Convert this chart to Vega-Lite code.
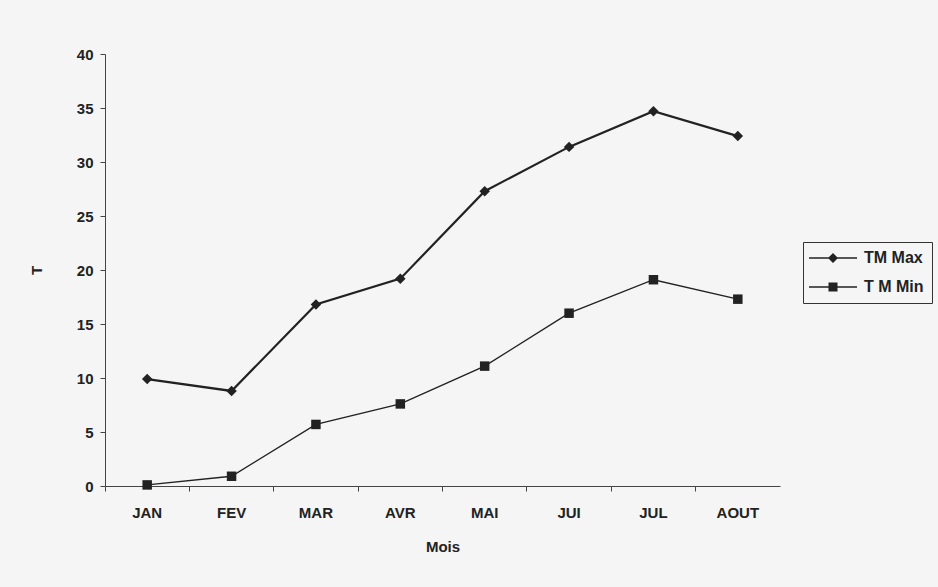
{
  "$schema": "https://vega.github.io/schema/vega-lite/v6.json",
  "width": 675,
  "height": 432,
  "autosize": {"type": "none"},
  "padding": {"left": 105, "top": 54, "right": 158, "bottom": 101},
  "background": "#f4f5f4",
  "config": {
    "view": {"stroke": null},
    "font": "Liberation Sans",
    "axis": {
      "domainColor": "#444",
      "tickColor": "#444",
      "labelColor": "#222",
      "titleColor": "#222",
      "labelFontWeight": "bold",
      "titleFontWeight": "bold",
      "labelFont": "Liberation Sans",
      "titleFont": "Liberation Sans",
      "grid": false
    }
  },
  "data": {
    "values": [
      {"mois": "JAN", "serie": "TM Max", "t": 9.9},
      {"mois": "FEV", "serie": "TM Max", "t": 8.8},
      {"mois": "MAR", "serie": "TM Max", "t": 16.8},
      {"mois": "AVR", "serie": "TM Max", "t": 19.2},
      {"mois": "MAI", "serie": "TM Max", "t": 27.3},
      {"mois": "JUI", "serie": "TM Max", "t": 31.4},
      {"mois": "JUL", "serie": "TM Max", "t": 34.7},
      {"mois": "AOUT", "serie": "TM Max", "t": 32.4},
      {"mois": "JAN", "serie": "T M Min", "t": 0.1},
      {"mois": "FEV", "serie": "T M Min", "t": 0.9},
      {"mois": "MAR", "serie": "T M Min", "t": 5.7},
      {"mois": "AVR", "serie": "T M Min", "t": 7.6},
      {"mois": "MAI", "serie": "T M Min", "t": 11.1},
      {"mois": "JUI", "serie": "T M Min", "t": 16.0},
      {"mois": "JUL", "serie": "T M Min", "t": 19.1},
      {"mois": "AOUT", "serie": "T M Min", "t": 17.3}
    ]
  },
  "encoding": {
    "x": {
      "field": "mois",
      "type": "nominal",
      "sort": ["JAN", "FEV", "MAR", "AVR", "MAI", "JUI", "JUL", "AOUT"],
      "scale": {"type": "band", "paddingInner": 0, "paddingOuter": 0},
      "axis": {
        "title": "Mois",
        "labelAngle": 0,
        "labelFontSize": 15,
        "titleFontSize": 15,
        "bandPosition": 0,
        "tickSize": 5,
        "labelPadding": 14,
        "titlePadding": 19
      }
    },
    "y": {
      "field": "t",
      "type": "quantitative",
      "scale": {"domain": [0, 40], "nice": false},
      "axis": {
        "title": "T",
        "values": [0, 5, 10, 15, 20, 25, 30, 35, 40],
        "labelFontSize": 15,
        "titleFontSize": 15,
        "tickSize": 5,
        "labelPadding": 7,
        "titlePadding": 32
      }
    }
  },
  "layer": [
    {
      "transform": [{"filter": "datum.serie === 'TM Max'"}],
      "mark": {"type": "line", "color": "#222", "strokeWidth": 2.2},
      "encoding": {}
    },
    {
      "transform": [{"filter": "datum.serie === 'T M Min'"}],
      "mark": {"type": "line", "color": "#222", "strokeWidth": 1.4},
      "encoding": {}
    },
    {
      "transform": [{"filter": "datum.serie === 'TM Max'"}],
      "mark": {"type": "point", "shape": "diamond", "filled": true, "color": "#222", "size": 110, "opacity": 1},
      "encoding": {}
    },
    {
      "transform": [{"filter": "datum.serie === 'T M Min'"}],
      "mark": {"type": "point", "shape": "square", "filled": true, "color": "#222", "size": 90, "opacity": 1},
      "encoding": {}
    },
    {
      "mark": {"type": "point", "filled": true, "color": "#222", "size": 100, "opacity": 0},
      "encoding": {
        "shape": {
          "field": "serie",
          "type": "nominal",
          "scale": {
            "domain": ["TM Max", "T M Min"],
            "range": [
              "M-4.8,-0.16L4.8,-0.16L4.8,0.16L-4.8,0.16ZM0,-1L1,0L0,1L-1,0Z",
              "M-4.8,-0.14L4.8,-0.14L4.8,0.14L-4.8,0.14ZM-0.9,-0.9L0.9,-0.9L0.9,0.9L-0.9,0.9Z"
            ]
          },
          "legend": {
            "title": null,
            "orient": "none",
            "legendX": 698,
            "legendY": 188,
            "strokeColor": "#333",
            "padding": 8,
            "fillColor": "#f4f5f4",
            "symbolSize": 100,
            "symbolOffset": 14,
            "symbolOpacity": 1,
            "symbolFillColor": "#222",
            "labelFontSize": 16,
            "labelFontWeight": "bold",
            "labelColor": "#222",
            "labelOffset": 23,
            "rowPadding": 13,
            "encode": {
              "legend": {
                "update": {"strokeWidth": {"value": 1.5}}
              },
              "symbols": {
                "update": {
                  "opacity": {"value": 1}
                }
              }
            }
          }
        }
      }
    }
  ]
}
